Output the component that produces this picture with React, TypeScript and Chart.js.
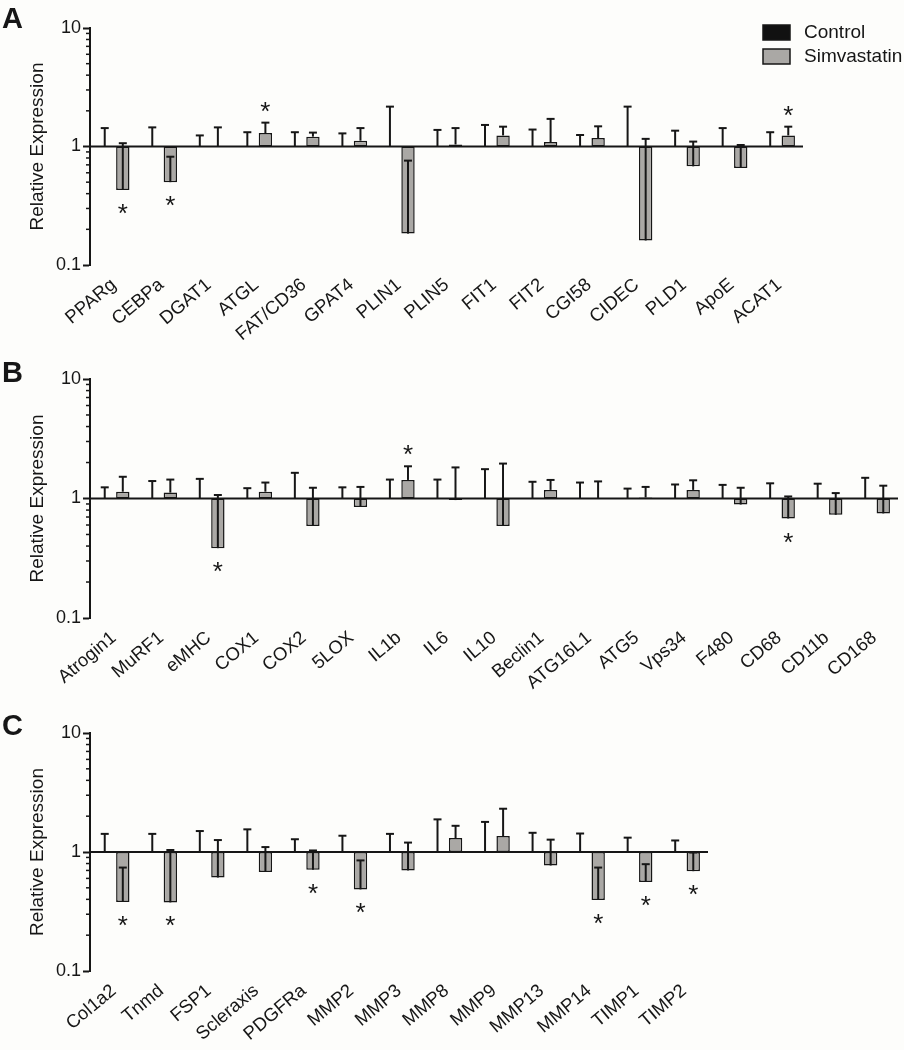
import React, { useEffect, useRef } from 'react';
import { Chart, registerables } from 'chart.js';

Chart.register(...registerables);

const FONT = "'Liberation Sans', Arial, Helvetica, sans-serif";
const INK = '#161616';
const GRAY = '#aaa8a5';

// ---------- Panel A ----------
const labelsA = ['PPARg', 'CEBPa', 'DGAT1', 'ATGL', 'FAT/CD36', 'GPAT4', 'PLIN1', 'PLIN5', 'FIT1', 'FIT2', 'CGI58', 'CIDEC', 'PLD1', 'ApoE', 'ACAT1'];
const controlA = [1, 1, 1, 1, 1, 1, 1, 1, 1, 1, 1, 1, 1, 1, 1];
const controlErrA = [1.43, 1.45, 1.24, 1.32, 1.32, 1.29, 2.17, 1.38, 1.52, 1.39, 1.25, 2.17, 1.36, 1.43, 1.32];
const simvaA = [0.43, 0.5, 1.01, 1.3, 1.21, 1.12, 0.184, 1.04, 1.24, 1.09, 1.18, 0.161, 0.68, 0.66, 1.24];
const simvaErrA = [1.066, 0.82, 1.45, 1.59, 1.31, 1.43, 0.76, 1.43, 1.47, 1.71, 1.48, 1.16, 1.1, 1.03, 1.47];
const sigA = [1, 1, 0, 1, 0, 0, 0, 0, 0, 0, 0, 0, 0, 0, 1];

// ---------- Panel B ----------
const labelsB = ['Atrogin1', 'MuRF1', 'eMHC', 'COX1', 'COX2', '5LOX', 'IL1b', 'IL6', 'IL10', 'Beclin1', 'ATG16L1', 'ATG5', 'Vps34', 'F480', 'CD68', 'CD11b', 'CD168'];
const controlB = [1, 1, 1, 1, 1, 1, 1, 1, 1, 1, 1, 1, 1, 1, 1, 1, 1];
const controlErrB = [1.24, 1.4, 1.46, 1.22, 1.64, 1.24, 1.44, 1.44, 1.76, 1.38, 1.36, 1.21, 1.31, 1.3, 1.34, 1.33, 1.49];
const simvaB = [1.14, 1.12, 0.384, 1.14, 0.59, 0.85, 1.43, 0.97, 0.59, 1.18, 1.01, 1.02, 1.18, 0.89, 0.68, 0.73, 0.75];
const simvaErrB = [1.52, 1.44, 1.07, 1.36, 1.23, 1.25, 1.86, 1.82, 1.96, 1.43, 1.39, 1.25, 1.42, 1.23, 1.04, 1.11, 1.28];
const sigB = [0, 0, 1, 0, 0, 0, 1, 0, 0, 0, 0, 0, 0, 0, 1, 0, 0];

// ---------- Panel C ----------
const labelsC = ['Col1a2', 'Tnmd', 'FSP1', 'Scleraxis', 'PDGFRa', 'MMP2', 'MMP3', 'MMP8', 'MMP9', 'MMP13', 'MMP14', 'TIMP1', 'TIMP2'];
const controlC = [1, 1, 1, 1, 1, 1, 1, 1, 1, 1, 1, 1, 1];
const controlErrC = [1.42, 1.42, 1.5, 1.55, 1.28, 1.37, 1.42, 1.88, 1.79, 1.45, 1.43, 1.32, 1.25];
const simvaC = [0.38, 0.377, 0.61, 0.68, 0.71, 0.485, 0.7, 1.31, 1.36, 0.77, 0.395, 0.56, 0.69];
const simvaErrC = [0.74, 1.04, 1.26, 1.1, 1.03, 0.85, 1.2, 1.66, 2.31, 1.27, 0.74, 0.79, 0.99];
const sigC = [1, 1, 0, 0, 1, 1, 0, 0, 0, 0, 1, 1, 1];

const yTickValues = [0.1, 1, 10];
const minorTickValues = [0.2, 0.3, 0.4, 0.5, 0.6, 0.7, 0.8, 0.9, 2, 3, 4, 5, 6, 7, 8, 9];
const seriesNames = ['Control', 'Simvastatin'];

const decorPlugin = {
  id: 'decor',
  afterDatasetsDraw(chart: any, _args: any, opts: any) {
    const { ctx, chartArea, scales } = chart;
    const ys = scales.y;
    const y1 = ys.getPixelForValue(1);
    ctx.save();
    ctx.strokeStyle = INK;
    ctx.lineCap = 'butt';
    // baseline at 1
    ctx.lineWidth = 2;
    ctx.beginPath();
    ctx.moveTo(chartArea.left, y1);
    ctx.lineTo(chartArea.right, y1);
    ctx.stroke();
    // error bars
    const errs = [opts.ctrlErr, opts.simErr];
    chart.data.datasets.forEach((ds: any, di: number) => {
      const meta = chart.getDatasetMeta(di);
      meta.data.forEach((bar: any, i: number) => {
        const mean = ds.data[i][1];
        const e = errs[di][i];
        const x = bar.x;
        const yb = ys.getPixelForValue(mean);
        const ye = ys.getPixelForValue(e);
        ctx.lineWidth = 2;
        ctx.beginPath();
        ctx.moveTo(x, yb);
        ctx.lineTo(x, ye);
        ctx.stroke();
        ctx.beginPath();
        ctx.moveTo(x - 4, ye);
        ctx.lineTo(x + 4, ye);
        ctx.stroke();
      });
    });
    // asterisks
    const simMeta = chart.getDatasetMeta(1);
    ctx.fillStyle = INK;
    ctx.font = `26px ${FONT}`;
    ctx.textAlign = 'center';
    ctx.textBaseline = 'alphabetic';
    opts.sig.forEach((s: number, i: number) => {
      if (!s) return;
      const bar = simMeta.data[i];
      const v = chart.data.datasets[1].data[i][1];
      if (v >= 1) {
        const ye = ys.getPixelForValue(opts.simErr[i]);
        ctx.fillText('*', bar.x, ye - 18 + 15);
      } else {
        const yb = ys.getPixelForValue(v);
        ctx.fillText('*', bar.x, yb + 17 + 15);
      }
    });
    // minor ticks
    ctx.lineWidth = 1.5;
    minorTickValues.forEach((v) => {
      const yy = ys.getPixelForValue(v);
      ctx.beginPath();
      ctx.moveTo(chartArea.left - 4, yy);
      ctx.lineTo(chartArea.left, yy);
      ctx.stroke();
    });
    ctx.restore();
  },
  afterDraw(chart: any, _args: any, opts: any) {
    const { ctx } = chart;
    ctx.save();
    ctx.fillStyle = INK;
    ctx.font = `bold 29px ${FONT}`;
    ctx.textAlign = 'left';
    ctx.textBaseline = 'alphabetic';
    ctx.fillText(opts.letter, 2, opts.letterY);
    if (opts.legend) {
      const fills = ['#111111', GRAY];
      ctx.font = `19px ${FONT}`;
      ctx.textBaseline = 'middle';
      seriesNames.forEach((name, i) => {
        const bx = 763;
        const by = 25 + i * 24;
        ctx.fillStyle = fills[i];
        ctx.fillRect(bx, by, 27, 15);
        ctx.strokeStyle = INK;
        ctx.lineWidth = 1.5;
        ctx.strokeRect(bx, by, 27, 15);
        ctx.fillStyle = INK;
        ctx.fillText(name, 804, by + 8);
      });
    }
    ctx.restore();
  },
};

type PanelProps = {
  letter: string;
  labels: string[];
  control: number[];
  controlErr: number[];
  simva: number[];
  simvaErr: number[];
  sig: number[];
  top: number;
  height: number;
  chartTop: number;
  chartBottom: number;
  chartRight: number;
  letterY: number;
  legend?: boolean;
};

const WIDTH = 904;

function Panel(p: PanelProps) {
  const ref = useRef<HTMLCanvasElement>(null);
  useEffect(() => {
    const canvas = ref.current;
    if (!canvas) return;
    const xHeight = p.height - (p.chartBottom - p.top);
    const chart = new Chart(canvas, {
      type: 'bar',
      data: {
        labels: p.labels,
        datasets: [
          {
            label: seriesNames[0],
            data: p.control.map((v) => [1, v]),
            backgroundColor: '#111111',
            borderColor: INK,
            borderWidth: 1.5,
            borderSkipped: false,
            categoryPercentage: 0.76,
            barPercentage: 0.74,
          },
          {
            label: seriesNames[1],
            data: p.simva.map((v) => [1, v]),
            backgroundColor: GRAY,
            borderColor: INK,
            borderWidth: 1.5,
            borderSkipped: false,
            categoryPercentage: 0.76,
            barPercentage: 0.74,
          },
        ],
      } as any,
      options: {
        animation: false,
        responsive: false,
        devicePixelRatio: 1,
        layout: {
          padding: { left: 0, top: p.chartTop - p.top, right: WIDTH - p.chartRight, bottom: 0 },
        },
        plugins: {
          legend: { display: false },
          tooltip: { enabled: false },
          decor: {
            ctrlErr: p.controlErr,
            simErr: p.simvaErr,
            sig: p.sig,
            letter: p.letter,
            letterY: p.letterY - p.top,
            legend: !!p.legend,
          },
        } as any,
        scales: {
          x: {
            offset: true,
            grid: { display: false },
            border: { display: false },
            ticks: {
              color: INK,
              font: { family: FONT, size: 18.5 },
              minRotation: 40,
              maxRotation: 40,
              autoSkip: false,
              padding: 1,
            },
            afterFit: (s: any) => {
              s.height = xHeight;
            },
          },
          y: {
            type: 'logarithmic',
            min: 0.1,
            max: 10,
            afterBuildTicks: (s: any) => {
              s.ticks = yTickValues.map((v) => ({ value: v }));
            },
            afterFit: (s: any) => {
              s.width = 90;
            },
            grid: {
              display: true,
              drawOnChartArea: false,
              drawTicks: true,
              tickLength: 7,
              tickWidth: 2,
              tickColor: INK,
            },
            border: { display: true, width: 2, color: INK },
            ticks: {
              color: INK,
              font: { family: FONT, size: 18 },
              padding: 2,
              autoSkip: false,
              callback: (v: any) => (yTickValues.includes(Number(v)) ? String(v) : ''),
            },
            title: {
              display: true,
              text: 'Relative Expression',
              color: INK,
              font: { family: FONT, size: 19 },
              padding: { top: 26, bottom: 0 },
            },
          },
        },
      } as any,
      plugins: [decorPlugin],
    });
    return () => chart.destroy();
  }, []);
  return (
    <canvas
      ref={ref}
      width={WIDTH}
      height={p.height}
      style={{ position: 'absolute', left: 0, top: p.top, width: WIDTH, height: p.height }}
    />
  );
}

export default function App() {
  return (
    <div
      style={{
        position: 'fixed',
        left: 0,
        top: 0,
        width: 904,
        height: 1050,
        overflow: 'hidden',
        background: '#fdfdfb',
      }}
    >
      <Panel
        letter="A"
        labels={labelsA}
        control={controlA}
        controlErr={controlErrA}
        simva={simvaA}
        simvaErr={simvaErrA}
        sig={sigA}
        top={0}
        height={360}
        chartTop={28}
        chartBottom={265}
        chartRight={803}
        letterY={28}
        legend
      />
      <Panel
        letter="B"
        labels={labelsB}
        control={controlB}
        controlErr={controlErrB}
        simva={simvaB}
        simvaErr={simvaErrB}
        sig={sigB}
        top={330}
        height={360}
        chartTop={379}
        chartBottom={618}
        chartRight={898}
        letterY={382}
      />
      <Panel
        letter="C"
        labels={labelsC}
        control={controlC}
        controlErr={controlErrC}
        simva={simvaC}
        simvaErr={simvaErrC}
        sig={sigC}
        top={680}
        height={370}
        chartTop={733}
        chartBottom={971}
        chartRight={708}
        letterY={735}
      />
    </div>
  );
}
